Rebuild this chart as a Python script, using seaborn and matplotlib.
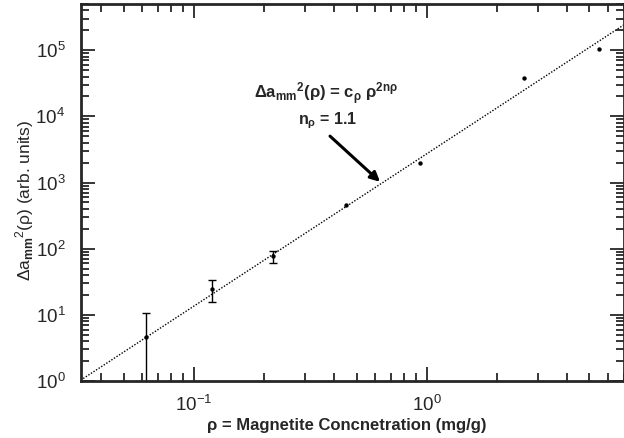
import numpy as np
import pandas as pd
import matplotlib
matplotlib.use("Agg")
import matplotlib.pyplot as plt
import seaborn as sns
from matplotlib.ticker import LogLocator, NullFormatter

# data
conc = [0.062, 0.12, 0.219, 0.449, 0.936, 2.62, 5.5]
delta_a = [4.7, 24.5, 77, 456, 1945, 37400, 103000]
delta_err = [5.9, 8.7, 16, 0, 0, 0, 0]

# power-law fit line (straight in log-log, two end points)
fit_conc = [0.0326, 7.0]
fit_delta = [1.03, 2.4e5]

df = pd.DataFrame({"conc": conc, "delta": delta_a, "err": delta_err})
df_fit = pd.DataFrame({"conc": fit_conc, "delta": fit_delta})

sns.set_style("ticks")
plt.rcParams["font.family"] = ["Liberation Sans", "DejaVu Sans"]
plt.rcParams["mathtext.fontset"] = "custom"
plt.rcParams["mathtext.rm"] = "Liberation Sans"
plt.rcParams["mathtext.it"] = "Liberation Sans"
plt.rcParams["mathtext.bf"] = "Liberation Sans:bold"
plt.rcParams["mathtext.default"] = "regular"
plt.rcParams["axes.unicode_minus"] = False

fig = plt.figure(figsize=(6.24, 4.38), dpi=100)
ax = fig.add_axes([0.1293, 0.1301, 0.8699, 0.8608])

sns.lineplot(data=df_fit, x="conc", y="delta", ax=ax, color="black",
             lw=1.0, linestyle=(0, (1, 1.2)), legend=False)

err = df[df["err"] > 0]
ax.errorbar(err["conc"], err["delta"], yerr=err["err"], fmt="none",
            ecolor="black", elinewidth=1.0, capsize=3, capthick=1.0)
sns.scatterplot(data=df, x="conc", y="delta", ax=ax, color="black",
                s=10, marker="o", edgecolor="black", linewidth=0, zorder=5)

ax.set_xscale("log")
ax.set_yscale("log")
ax.set_xlim(0.0326, 7.0)
ax.set_ylim(1, 5e5)

ax.yaxis.set_minor_locator(LogLocator(base=10, subs=np.arange(2, 10), numticks=20))
ax.yaxis.set_minor_formatter(NullFormatter())
ax.xaxis.set_minor_locator(LogLocator(base=10, subs=np.arange(2, 10), numticks=20))
ax.xaxis.set_minor_formatter(NullFormatter())

ax.tick_params(which="both", direction="in", top=True, right=True, width=1.3)
ax.tick_params(which="major", length=10, labelsize=13.5)
ax.tick_params(axis="x", which="major", pad=10)
ax.tick_params(axis="y", which="major", pad=11)
ax.tick_params(which="minor", length=5.5)
for s in ax.spines.values():
    s.set_linewidth(2)

ax.set_xlabel("ρ = Magnetite Concnetration (mg/g)", fontsize=12, fontweight="bold")
ax.set_ylabel(r"$\Delta a_{\mathbf{mm}}{}^{2}(\rho)$ (arb. units)", fontsize=12.5)
ax.xaxis.set_label_coords(0.49, -0.097)
ax.yaxis.set_label_coords(-0.082, 0.48)

ax.text(0.369, 18800, r"$\Delta a_{mm}{}^{2}(\rho)$ = c$_{\rho}$ $\rho^{2n\rho}$",
        fontsize=12, fontweight="bold", ha="center", va="baseline")
ax.text(0.376, 7600, r"n$_{\rho}$ = 1.1", fontsize=11.5, fontweight="bold",
        ha="center", va="baseline")
ax.annotate("", xy=(0.63, 1025), xytext=(0.384, 5030),
            arrowprops=dict(arrowstyle="-|>", lw=2.2, color="black",
                            mutation_scale=14, shrinkA=0, shrinkB=0))

fig.savefig("out.png", dpi=100)
